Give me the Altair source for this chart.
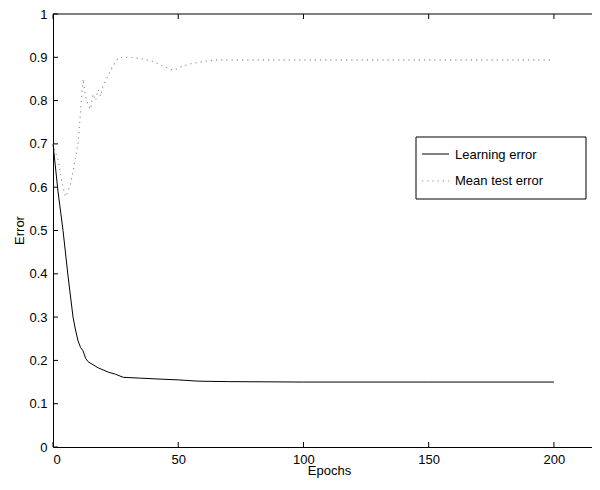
import altair as alt
import pandas as pd

# ---- data ----
learn_epochs = [0, 2, 4, 6, 8, 9, 10, 11, 12, 13, 14, 16, 18, 20, 22, 25, 28, 35, 42, 50, 58, 70, 100, 150, 200]
learn_error = [0.70, 0.59, 0.50, 0.395, 0.30, 0.27, 0.245, 0.23, 0.222, 0.205, 0.197, 0.19, 0.183,
               0.178, 0.173, 0.168, 0.161, 0.159, 0.157, 0.155, 0.152, 0.151, 0.15, 0.15, 0.15]

test_epochs = [0, 1, 2, 3, 4, 5, 6, 7, 8, 9, 10, 11, 12, 13, 14, 15, 16, 17, 18, 19, 20, 21, 22, 23,
               24, 25, 26, 28, 30, 33, 36, 40, 44, 48, 51, 55, 60, 65, 100, 150, 200]
test_error = [0.70, 0.68, 0.665, 0.63, 0.60, 0.578, 0.59, 0.608, 0.635, 0.67, 0.70, 0.775, 0.85,
              0.81, 0.79, 0.78, 0.815, 0.80, 0.825, 0.81, 0.835, 0.845, 0.858, 0.87, 0.88, 0.89,
              0.898, 0.90, 0.90, 0.899, 0.896, 0.89, 0.88, 0.87, 0.878, 0.885, 0.89, 0.894, 0.894,
              0.894, 0.894]

series_names = ["Learning error", "Mean test error"]
x_ticks = [0, 50, 100, 150, 200]
y_ticks = [0, 0.1, 0.2, 0.3, 0.4, 0.5, 0.6, 0.7, 0.8, 0.9, 1]

W, H = 539, 433
FONT = "Liberation Sans"

learn_df = pd.DataFrame({"Epochs": learn_epochs, "Error": learn_error, "series": series_names[0]})
test_df = pd.DataFrame({"Epochs": test_epochs, "Error": test_error, "series": series_names[1]})
xt_df = pd.DataFrame({"t": x_ticks})
yt_df = pd.DataFrame({"t": y_ticks})
one_df = pd.DataFrame({"k": [0]})

xscale = alt.Scale(domain=[0, 215.2], nice=False, zero=False)
yscale = alt.Scale(domain=[0, 1], nice=False, zero=False)

xaxis = alt.Axis(values=x_ticks, ticks=False, grid=False, labelPadding=6, labelFontSize=13,
                 labelFont=FONT, labelFontWeight="normal", labelColor="black",
                 domainColor="black", domainWidth=1,
                 title="Epochs", titleFont=FONT, titleFontSize=13, titleFontWeight="normal",
                 titleColor="black", titleX=276, titleY=27, titleBaseline="alphabetic",
                 labelBaseline="top")
yaxis = alt.Axis(values=y_ticks, format="~g", ticks=False, grid=False, labelPadding=6,
                 labelFontSize=13, labelFont=FONT, labelFontWeight="normal", labelColor="black",
                 domainColor="black", domainWidth=1, title="Error", titleFont=FONT,
                 titleFontSize=13, titleFontWeight="normal", titleColor="black",
                 titleX=-30, titleY=216, titleAngle=270, titleBaseline="alphabetic")

learn_line = alt.Chart(learn_df).mark_line(color="black", strokeWidth=1).encode(
    x=alt.X("Epochs:Q", scale=xscale, axis=xaxis),
    y=alt.Y("Error:Q", scale=yscale, axis=yaxis),
)
test_line = alt.Chart(test_df).mark_line(color="#8a8a8a", strokeWidth=1.1, strokeDash=[1.2, 4]).encode(
    x=alt.X("Epochs:Q", scale=xscale, axis=xaxis),
    y=alt.Y("Error:Q", scale=yscale, axis=yaxis),
)

# frame top line and inward ticks (MATLAB style)
top_line = alt.Chart(one_df).mark_rule(color="black", strokeWidth=1).encode(
    y=alt.Y(datum=1, scale=yscale, axis=yaxis), x=alt.value(0), x2=alt.value(W)
)
left_ticks = alt.Chart(yt_df).mark_rule(color="black", strokeWidth=1).encode(
    y=alt.Y("t:Q", scale=yscale, axis=yaxis), x=alt.value(0), x2=alt.value(5)
)
bottom_ticks = alt.Chart(xt_df).mark_rule(color="black", strokeWidth=1).encode(
    x=alt.X("t:Q", scale=xscale, axis=xaxis), y=alt.value(H), y2=alt.value(H - 5)
)
top_ticks = alt.Chart(xt_df).mark_rule(color="black", strokeWidth=1).encode(
    x=alt.X("t:Q", scale=xscale, axis=xaxis), y=alt.value(0), y2=alt.value(5)
)

# legend box
leg_box = alt.Chart(one_df).mark_rect(fill="white", stroke="black", strokeWidth=1).encode(
    x=alt.value(363), x2=alt.value(533), y=alt.value(123), y2=alt.value(185)
)
leg_l1 = alt.Chart(one_df).mark_rule(color="black", strokeWidth=1).encode(
    x=alt.value(369), x2=alt.value(396), y=alt.value(140)
)
leg_l2 = alt.Chart(one_df).mark_rule(color="#8a8a8a", strokeWidth=1.1, strokeDash=[1.2, 4]).encode(
    x=alt.value(369), x2=alt.value(396), y=alt.value(167)
)
leg_t1 = alt.Chart(one_df).mark_text(align="left", baseline="middle", font=FONT, fontSize=13,
                                     fontWeight="normal", color="black").encode(
    x=alt.value(402), y=alt.value(141), text=alt.value(series_names[0])
)
leg_t2 = alt.Chart(one_df).mark_text(align="left", baseline="middle", font=FONT, fontSize=13,
                                     fontWeight="normal", color="black").encode(
    x=alt.value(402), y=alt.value(167), text=alt.value(series_names[1])
)

chart = alt.layer(
    learn_line, test_line, top_line, left_ticks, bottom_ticks, top_ticks,
    leg_box, leg_l1, leg_l2, leg_t1, leg_t2
).properties(
    width=W, height=H,
    autosize=alt.AutoSizeParams(type="none"),
    padding={"left": 45, "top": 6, "right": 0, "bottom": 34},
    background="white",
).configure_view(stroke=None)

chart.save("out.html", embed_options={"renderer": "svg", "actions": False})
